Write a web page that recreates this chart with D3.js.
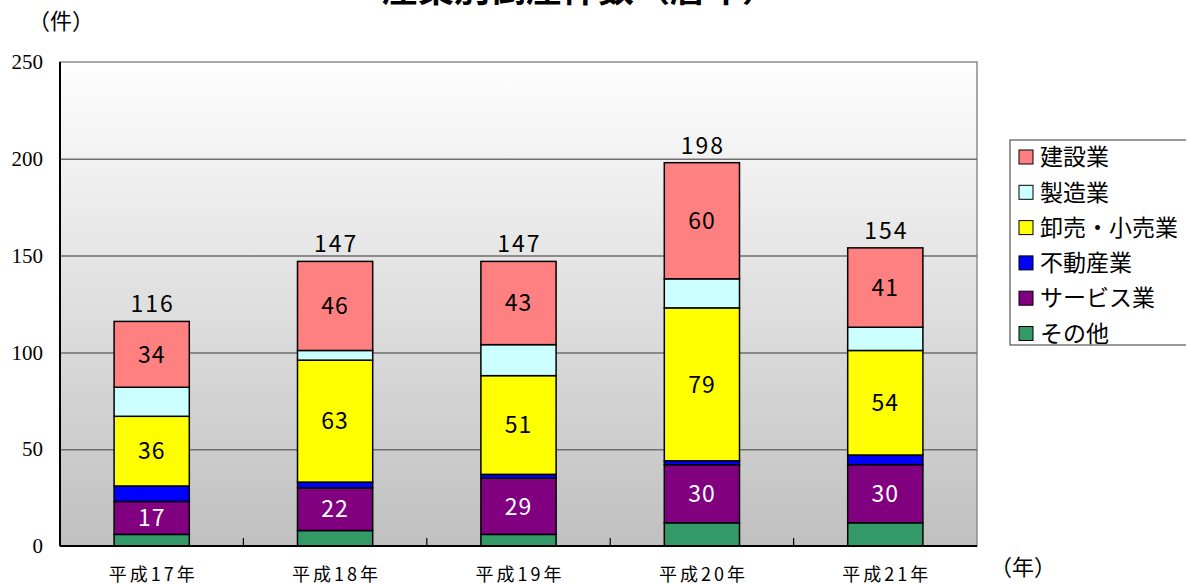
<!DOCTYPE html>
<html>
<head>
<meta charset="utf-8">
<script src="https://d3js.org/d3.v7.min.js"></script>
<style>
	body{margin:0;background:#fff;}
	svg{display:block;}
</style>
</head>
<body>
<div id="chart"></div>
<script>
// data (件)
const years = ['平成17年','平成18年','平成19年','平成20年','平成21年']
const seriesNames = ['その他','サービス業','不動産業','卸売・小売業','製造業','建設業']
const other = [6,8,6,12,12]
const service = [17,22,29,30,30]
const realEstate = [8,3,2,2,5]
const wholesale = [36,63,51,79,54]
const manufacturing = [15,5,16,15,12]
const construction = [34,46,43,60,41]
const yTicks = [0,50,100,150,200,250]

const seriesValues = [other,service,realEstate,wholesale,manufacturing,construction]
const colors = ['#339966','#800080','#0000ff','#ffff00','#ccffff','#ff8080']
const labelColor = [null,'#fff',null,'#000',null,'#000']

const width = 1186,height = 585
const pLeft = 60,pRight = 977,pTop = 62,pBottom = 546

const svg = d3.select('#chart').append('svg')
	.attr('width',width)
	.attr('height',height)

const x = d3.scaleBand().domain(years).range([pLeft,pRight])
	.paddingInner(0.59).paddingOuter(0.295)
const y = d3.scaleLinear().domain([0,250]).range([pBottom,pTop])

// background gradient
const grad = svg.append('defs').append('linearGradient')
	.attr('id','bg').attr('x1',0).attr('y1',0).attr('x2',0).attr('y2',1)
grad.append('stop').attr('offset','0%').attr('stop-color','#fefefe')
grad.append('stop').attr('offset','100%').attr('stop-color','#c0c0c0')
svg.append('rect')
	.attr('x',pLeft).attr('y',pTop)
	.attr('width',pRight-pLeft).attr('height',pBottom-pTop)
	.attr('fill','url(#bg)')
	.attr('stroke','#8c8c8c').attr('stroke-width',1.5)

// gridlines
svg.append('g')
	.attr('transform',`translate(${pLeft},0)`)
	.call(d3.axisLeft(y).tickValues(yTicks.slice(1,-1)).tickSize(-(pRight-pLeft)).tickFormat(''))
	.call(g => g.select('.domain').remove())
	.call(g => g.selectAll('line').attr('stroke','#6e6e6e').attr('stroke-width',1.5))

// y labels
svg.append('g')
	.attr('transform',`translate(${pLeft},0)`)
	.call(d3.axisLeft(y).tickValues(yTicks).tickSize(0).tickPadding(17))
	.call(g => g.select('.domain').remove())
	.call(g => g.selectAll('text')
		.attr('font-family','"Liberation Serif","DejaVu Serif",serif')
		.attr('font-size',21).attr('fill','#000'))

// stack
const table = years.map((yr,i) => {
	const row = {year:yr}
	seriesNames.forEach((s,j) => row[s] = seriesValues[j][i])
	return row
})
const stacked = d3.stack().keys(seriesNames)(table)

const layers = svg.selectAll('g.layer').data(stacked).enter().append('g')
	.attr('class','layer')
	.attr('fill',(d,i) => colors[i])
layers.selectAll('rect').data(d => d).enter().append('rect')
	.attr('x',d => x(d.data.year))
	.attr('y',d => y(d[1]))
	.attr('width',x.bandwidth())
	.attr('height',d => y(d[0]) - y(d[1]))
	.attr('stroke','#000').attr('stroke-width',1.5)

// value labels in segments
stacked.forEach((layer,i) => {
	if(!labelColor[i]) return
	svg.append('g').selectAll('text').data(layer).enter().append('text')
		.attr('x',d => x(d.data.year) + x.bandwidth()/2)
		.attr('y',d => (y(d[0]) + y(d[1]))/2)
		.attr('dy','0.36em')
		.attr('text-anchor','middle')
		.attr('font-family','"Noto Sans CJK JP","DejaVu Sans",sans-serif')
		.attr('font-size',23)
		.attr('letter-spacing',1)
		.attr('fill',labelColor[i])
		.text(d => d[1] - d[0])
})

// totals
const totals = years.map((yr,i) => d3.sum(seriesValues,s => s[i]))
svg.append('g').selectAll('text').data(years).enter().append('text')
	.attr('x',d => x(d) + x.bandwidth()/2 + 1)
	.attr('y',(d,i) => y(totals[i]) - 9)
	.attr('text-anchor','middle')
	.attr('font-family','"Noto Sans CJK JP","DejaVu Sans",sans-serif')
	.attr('font-size',23)
	.attr('letter-spacing',2)
	.text((d,i) => totals[i])

// axes lines
svg.append('line')
	.attr('x1',pLeft).attr('x2',pLeft).attr('y1',pTop).attr('y2',pBottom)
	.attr('stroke','#000').attr('stroke-width',2)
svg.append('line')
	.attr('x1',pLeft).attr('x2',pRight).attr('y1',pBottom).attr('y2',pBottom)
	.attr('stroke','#000').attr('stroke-width',2)

// x ticks between categories (inside)
svg.append('g').selectAll('line').data(years.slice(1)).enter().append('line')
	.attr('x1',d => x(d) - x.step()*x.paddingInner()/2)
	.attr('x2',d => x(d) - x.step()*x.paddingInner()/2)
	.attr('y1',pBottom).attr('y2',pBottom - 8)
	.attr('stroke','#000').attr('stroke-width',1.2)

// x labels
svg.append('g').selectAll('text').data(years).enter().append('text')
	.attr('x',d => x(d) + x.bandwidth()/2)
	.attr('y',581)
	.attr('text-anchor','middle')
	.attr('font-family','"Noto Sans CJK JP",sans-serif')
	.attr('font-size',18)
	.attr('textLength',86)
	.text(d => d)

// unit labels
svg.append('text')
	.attr('x',28).attr('y',29)
	.attr('font-family','"Noto Sans CJK JP",sans-serif')
	.attr('font-size',22)
	.text('（件）')
svg.append('text')
	.attr('x',990).attr('y',575)
	.attr('font-family','"Noto Sans CJK JP",sans-serif')
	.attr('font-size',22)
	.text('（年）')

// title (cut at top)
svg.append('text')
	.attr('x',580).attr('y',2)
	.attr('text-anchor','middle')
	.attr('font-family','"Noto Sans CJK JP",sans-serif')
	.attr('font-weight','bold')
	.attr('font-size',36)
	.text('産業別倒産件数（暦年）')

// legend
svg.append('rect')
	.attr('x',1010).attr('y',140).attr('width',190).attr('height',205)
	.attr('fill','#fff').attr('stroke','#555').attr('stroke-width',1.2)
const legendOrder = seriesNames.map((s,i) => i).reverse()
const li = svg.append('g').selectAll('g').data(legendOrder).enter().append('g')
	.attr('transform',(d,i) => `translate(1019,${157 + i*35.3})`)
li.append('rect')
	.attr('x',0).attr('y',-7).attr('width',14).attr('height',14)
	.attr('fill',d => colors[d]).attr('stroke','#000').attr('stroke-width',1)
li.append('text')
	.attr('x',21).attr('dy','0.36em')
	.attr('font-family','"Noto Sans CJK JP",sans-serif')
	.attr('font-size',23)
	.text(d => seriesNames[d])
</script>
</body>
</html>
